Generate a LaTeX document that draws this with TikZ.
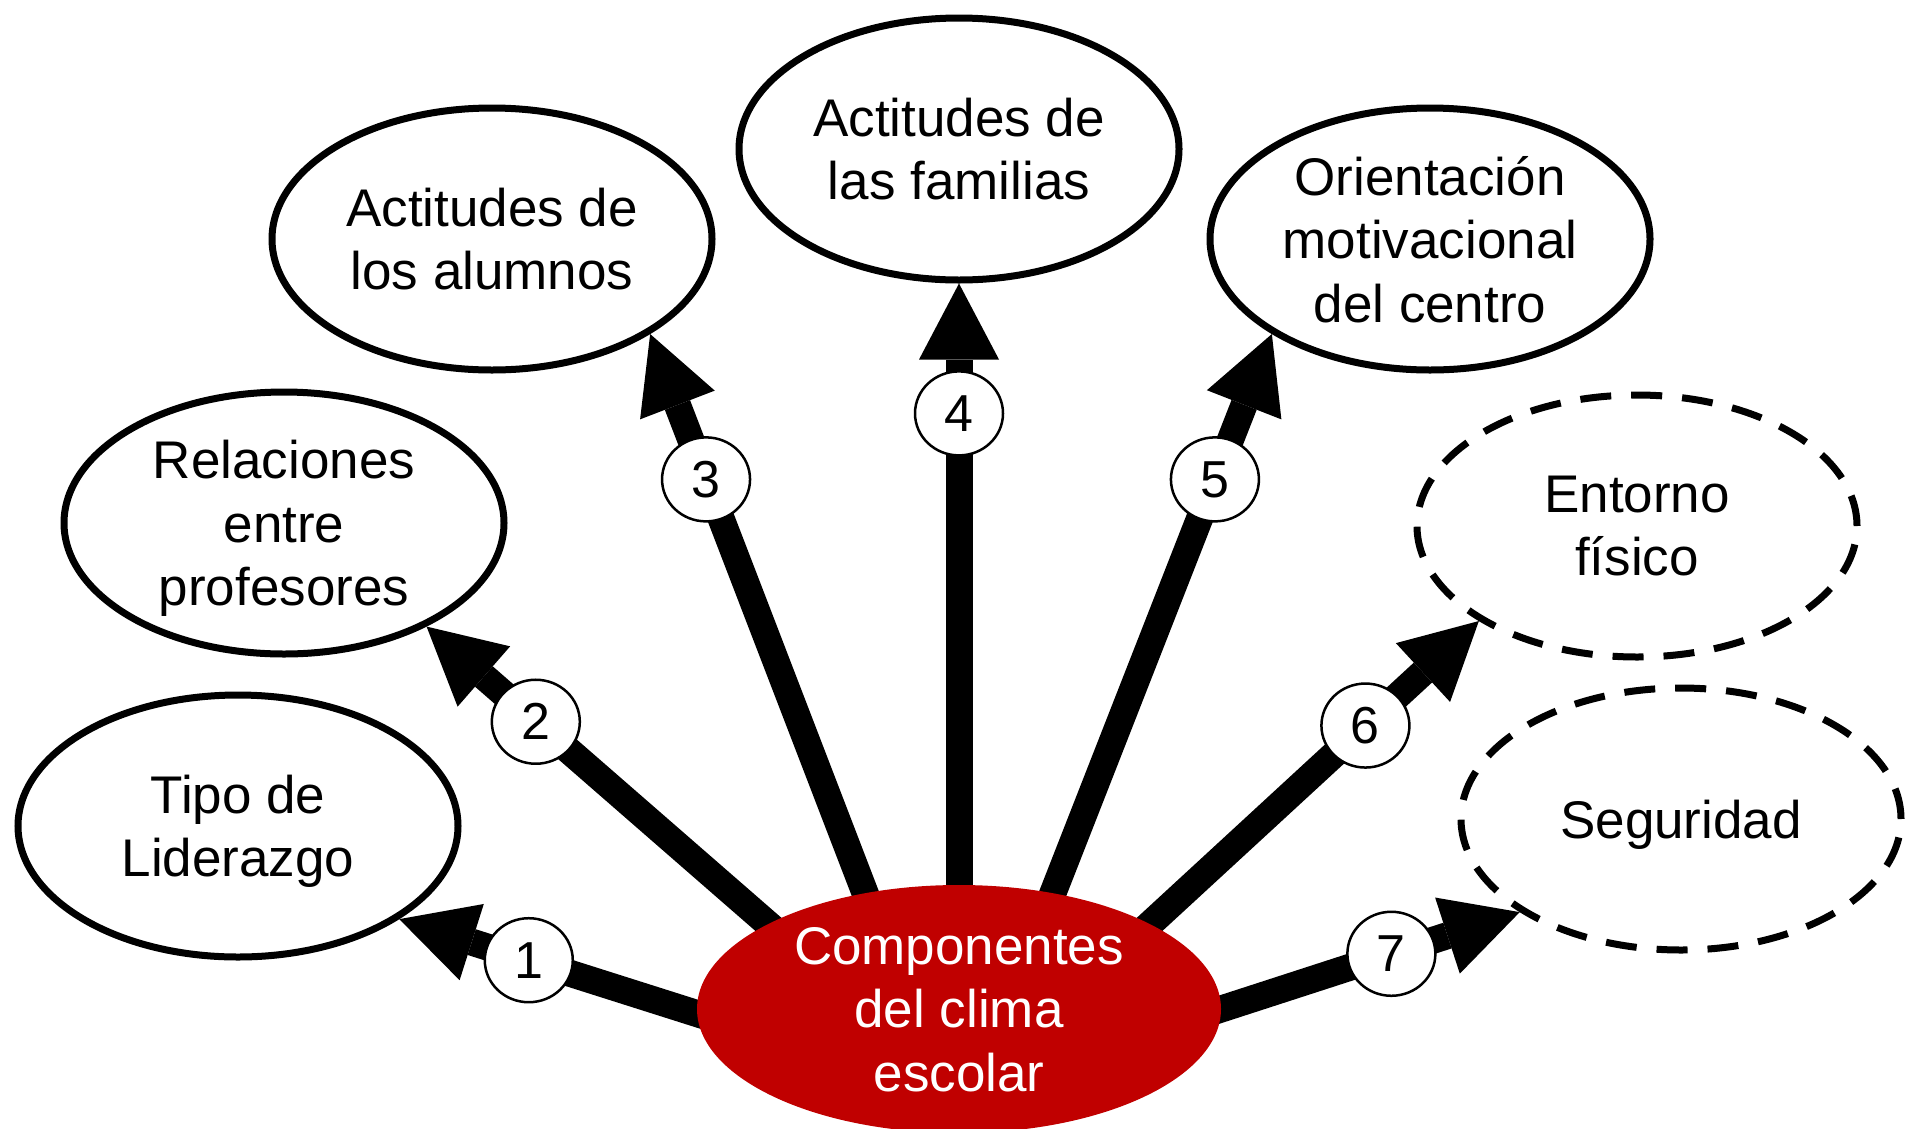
\documentclass[tikz,border=0pt]{standalone}
\usepackage{fontspec}
\setmainfont{Liberation Sans}
\usetikzlibrary{shapes.geometric,arrows.meta}
\pgfdeclarelayer{back}
\pgfdeclarelayer{bg}
\pgfsetlayers{back,bg,main}
\definecolor{clired}{RGB}{192,0,0}
\begin{document}
\begin{tikzpicture}[x=1pt,y=-1pt,
  comp/.style={ellipse, draw, line width=7pt, minimum width=440pt, minimum height=262pt,
    inner sep=0pt, align=center, text depth=-5pt, font=\fontsize{53}{63.5}\selectfont},
  compdash/.style={comp, dash pattern=on 31pt off 20pt},
  core/.style={ellipse, fill=clired, text=white, minimum width=524pt, minimum height=248pt,
    inner xsep=0pt, inner ysep=-8pt, align=center, text depth=-5pt,
    font=\fontsize{53}{63.5}\selectfont},
  num/.style={ellipse, draw, fill=white, line width=2.5pt, minimum width=88pt,
    minimum height=84pt, inner sep=0pt, font=\fontsize{52}{60}\selectfont},
  link/.style={line width=27pt, shorten <=-30pt,
    -{Triangle[length=76pt,width=80pt,line width=0pt]}}
]
\useasboundingbox (0,0) rectangle (1911,1128);
\begin{pgfonlayer}{back}
\fill[white] (0,0) rectangle (1911,1128);
\end{pgfonlayer}

\node[comp] (lid) at (238,826) {Tipo de\\Liderazgo};
\node[comp] (rel) at (284,523) {Relaciones\\entre\\profesores};
\node[comp] (alu) at (492,239) {Actitudes de\\los alumnos};
\node[comp] (fam) at (959,149) {Actitudes de\\las familias};
\node[comp] (ori) at (1430,239) {Orientación\\motivacional\\del centro};
\node[compdash] (ent) at (1637,526) {Entorno\\físico};
\node[compdash] (seg) at (1681,819) {Seguridad};
\node[core] (cl) at (959,1009) {Componentes\\del clima\\escolar};

\begin{pgfonlayer}{bg}
\draw[link] (cl.181) -- node[num,pos=0.565] (n1) {1} (lid.-30);
\draw[link] (cl.156) -- node[num,pos=0.68] (n2) {2} (rel.-36);
\draw[link] (cl.129) -- node[num,pos=0.74] (n3) {3} (alu.-31);
\draw[link] (cl.90) -- node[num,pos=0.784] (n4) {4} (fam.-90);
\draw[link] (cl.51) -- node[num,pos=0.74] (n5) {5} (ori.211);
\draw[link] (cl.24) -- node[num,pos=0.655] (n6) {6} (ent.211);
\draw[link] (cl.0) -- node[num,pos=0.57] (n7) {7} (seg.210);
\end{pgfonlayer}
\end{tikzpicture}
\end{document}
